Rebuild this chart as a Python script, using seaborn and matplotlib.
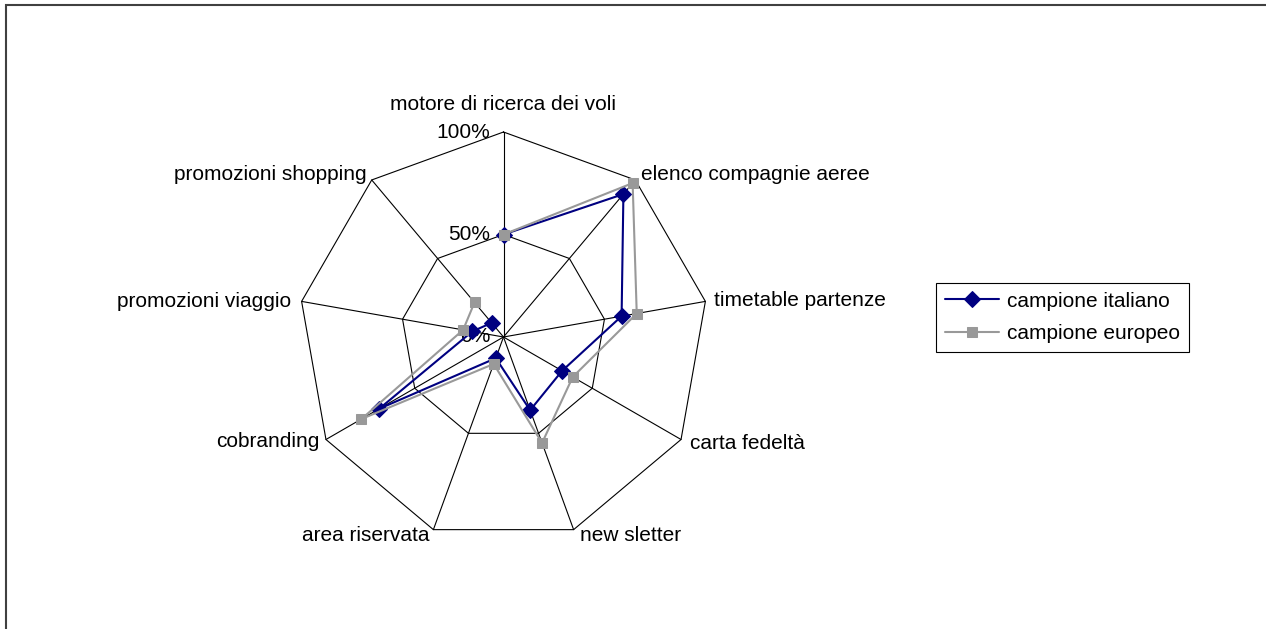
import numpy as np
import pandas as pd
import seaborn as sns
import matplotlib.pyplot as plt
from matplotlib.patches import Rectangle

categories = ["motore di ricerca dei voli", "elenco compagnie aeree", "timetable partenze",
              "carta fedeltà", "new sletter", "area riservata", "cobranding",
              "promozioni viaggio", "promozioni shopping"]
italiano = [0.50, 0.91, 0.585, 0.33, 0.38, 0.11, 0.70, 0.155, 0.09]
europeo = [0.50, 0.98, 0.66, 0.39, 0.55, 0.14, 0.80, 0.20, 0.22]
rings = [0.0, 0.5, 1.0]
ring_labels = ["0%", "50%", "100%"]

# pixel offsets of the category labels from their outer vertex
label_offsets = [(0, 28, "center"), (6, 5, "left"), (9, 1, "left"), (9, -4, "left"),
                 (6, -6, "left"), (-4, -6, "right"), (-6, -2, "right"),
                 (-10, 0, "right"), (-5, 5, "right")]

sns.set_style("white")
plt.rcParams['font.family'] = ['Liberation Sans', 'DejaVu Sans']
plt.rcParams['text.color'] = 'black'
fs = 15

W, H = 1266, 629
fig = plt.figure(figsize=(W / 100, H / 100), dpi=100)
cx, cy, R = 503.5, 337, 205
ax = fig.add_axes([(cx - R) / W, (H - cy - R) / H, 2 * R / W, 2 * R / H], projection="polar")
ax.set_theta_offset(np.pi / 2)
ax.set_theta_direction(-1)
ax.set_ylim(0, 1)
ax.grid(False)
ax.spines["polar"].set_visible(False)
ax.set_xticks([])
ax.set_yticks([])
ax.patch.set_alpha(0)

n = len(categories)
theta = np.arange(n) * 2 * np.pi / n
theta_closed = np.append(theta, theta[0])

# polygon grid
for r in rings[1:]:
    ax.plot(theta_closed, [r] * (n + 1), color="black", lw=0.8, clip_on=False, zorder=1)
for t in theta:
    ax.plot([t, t], [0, 1], color="black", lw=0.8, clip_on=False, zorder=1)

df_it = pd.DataFrame({"theta": theta_closed, "value": italiano + italiano[:1]})
df_eu = pd.DataFrame({"theta": theta_closed, "value": europeo + europeo[:1]})
sns.lineplot(data=df_it, x="theta", y="value", sort=False, ax=ax, color="#000080",
             lw=1.5, marker="D", markersize=8, markeredgecolor="#000080",
             label="campione italiano", clip_on=False, zorder=3)
sns.lineplot(data=df_eu, x="theta", y="value", sort=False, ax=ax, color="#999999",
             lw=1.5, marker="s", markersize=7.5, markeredgecolor="#999999",
             label="campione europeo", clip_on=False, zorder=4)
ax.set_xlabel("")
ax.set_ylabel("")

for r, lab in zip(rings, ring_labels):
    ax.annotate(lab, xy=(0, r), xytext=(-13, 0), textcoords="offset pixels",
                ha="right", va="center", fontsize=fs, annotation_clip=False, zorder=2)

for t, lab, (dx, dy, ha) in zip(theta, categories, label_offsets):
    ax.annotate(lab, xy=(t, 1), xytext=(dx, dy), textcoords="offset pixels",
                ha=ha, va="center", fontsize=fs, annotation_clip=False)

handles, labels = ax.get_legend_handles_labels()
ax.legend(handles, labels, loc="upper left", bbox_to_anchor=(936 / W, 1 - 283 / H),
          bbox_transform=fig.transFigure, fontsize=fs, frameon=True, fancybox=False,
          edgecolor="black", framealpha=1, handlelength=2.6, borderaxespad=0,
          labelspacing=0.65, borderpad=0.42, handletextpad=0.4)
ax.get_legend().get_frame().set_linewidth(0.8)

fig.patches.append(Rectangle((6 / W, -0.1), 1.2, 1.1 - 5 / H, transform=fig.transFigure,
                             fill=False, edgecolor="#404040", lw=1.5))

fig.savefig("out.png", dpi=100)
